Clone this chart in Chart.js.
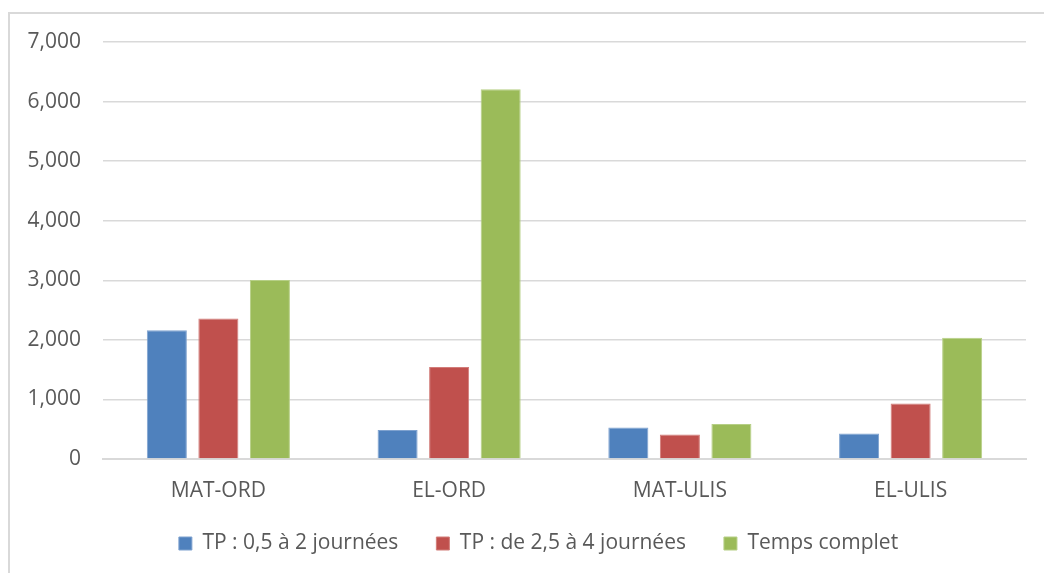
<!DOCTYPE html>
<html>
<head>
<meta charset="utf-8">
<script src="https://cdn.jsdelivr.net/npm/chart.js@4/dist/chart.umd.min.js"></script>
<style>
  html, body { margin: 0; padding: 0; background: #ffffff; overflow: hidden; }
  #wrap { position: relative; width: 1044px; height: 573px; }
  #frame { position: absolute; left: 8px; top: 12px; width: 2000px; height: 2000px;
           border-left: 2px solid #d9d9d9; border-top: 2px solid #d9d9d9; box-sizing: border-box; }
  canvas { position: absolute; left: 0; top: 0; }
</style>
</head>
<body>
<div id="wrap">
  <div id="frame"></div>
  <canvas id="c" width="1044" height="573"></canvas>
</div>
<script>
const categories = ["MAT-ORD", "EL-ORD", "MAT-ULIS", "EL-ULIS"];
const seriesNames = ["TP : 0,5 à 2 journées", "TP : de 2,5 à 4 journées", "Temps complet"];
const tp05a2 = [2160, 487, 528, 430];
const tp25a4 = [2360, 1546, 410, 930];
const tempsComplet = [3005, 6205, 588, 2035];
const yTicks = [0, 1000, 2000, 3000, 4000, 5000, 6000, 7000];
const colors = ["#4f81bd", "#c0504d", "#9bbb59"];
const borderColors = ["#7fa2cf", "#d27c79", "#b6cf86"];

const FONT = "'Open Sans', 'Noto Sans', sans-serif";
const TEXT = "#595959";
const GRID = "#d9d9d9";

const PAD_LEFT = 51;
const PAD_BOTTOM = 9;
const LEGEND_PAD = 38;

const values = [tp05a2, tp25a4, tempsComplet];

const noClip = (s) => { s._computeLabelArea = () => undefined; };

new Chart(document.getElementById("c"), {
  type: "bar",
  data: {
    labels: categories,
    datasets: values.map((v, i) => ({
      label: seriesNames[i],
      data: v,
      backgroundColor: colors[i],
      borderColor: borderColors[i],
      borderWidth: 1,
      categoryPercentage: 0.67,
      barPercentage: 0.777
    }))
  },
  options: {
    responsive: false,
    animation: false,
    devicePixelRatio: 1,
    layout: { padding: { left: PAD_LEFT, right: 18, top: 42, bottom: PAD_BOTTOM } },
    plugins: {
      legend: {
        position: "bottom",
        labels: {
          boxWidth: 13,
          boxHeight: 13,
          padding: LEGEND_PAD,
          color: TEXT,
          font: { family: FONT, size: 21 }
        }
      },
      tooltip: { enabled: false }
    },
    scales: {
      x: {
        grid: { display: false, drawTicks: false },
        border: { display: true, color: GRID, width: 2 },
        ticks: { color: TEXT, padding: 19, font: { family: FONT, size: 21 } },
        afterFit: (s) => { noClip(s); s.height = 36; }
      },
      y: {
        min: 0,
        max: 7000,
        afterBuildTicks: (s) => { s.ticks = yTicks.map(v => ({ value: v })); },
        grid: { color: GRID, lineWidth: 1.5, drawTicks: false },
        border: { display: false },
        ticks: {
          color: TEXT,
          padding: 22,
          font: { family: FONT, size: 21 },
          callback: (v) => Number(v).toLocaleString("en-US")
        },
        afterFit: (s) => { noClip(s); s.width = 103 - PAD_LEFT; }
      }
    }
  }
});
</script>
</body>
</html>
